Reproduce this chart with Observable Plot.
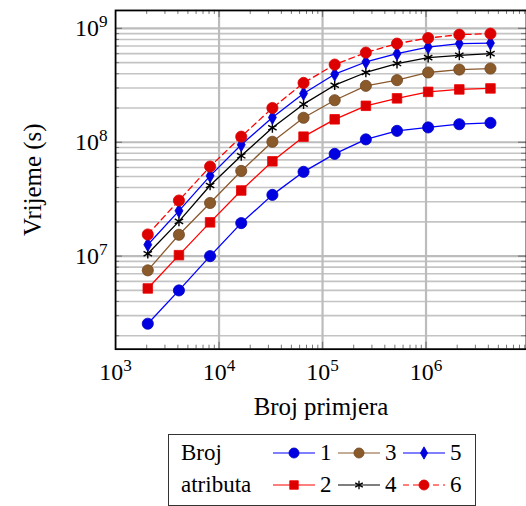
<!DOCTYPE html>
<html><head><meta charset="utf-8">
<script src="https://cdn.jsdelivr.net/npm/d3@7"></script>
<script src="https://cdn.jsdelivr.net/npm/@observablehq/plot@0.6"></script>
<style>
html,body{margin:0;padding:0;background:#fff;overflow:hidden;}
#chart{position:absolute;left:0;top:0;}
#legend{position:absolute;left:168px;top:434px;border:1.5px solid #333;background:#fff;
  padding:2px 12px 4px 12px;font-size:23px;color:#000;
  display:grid;grid-template-columns:92px 42px 23px 42px 23px 42px 18px;grid-auto-rows:32px;align-items:center;}
#legend .num{padding-left:5px;}
#legend svg{display:block;}
</style></head><body>
<div id="chart"></div>
<div id="legend"></div>
<script>
// ---- data ----
const sizes = [2048, 4096, 8192, 16384, 32768, 65536, 131072, 262144, 524288, 1048576, 2097152, 4194304];
const seriesNames = ["1", "2", "3", "4", "5", "6"];
const s1 = [2.55e6, 5.0e6, 1.0e7, 1.95e7, 3.45e7, 5.5e7, 7.9e7, 1.06e8, 1.26e8, 1.35e8, 1.44e8, 1.48e8];
const s2 = [5.2e6, 1.02e7, 1.98e7, 3.77e7, 6.8e7, 1.12e8, 1.59e8, 2.09e8, 2.43e8, 2.77e8, 2.91e8, 2.97e8];
const s3 = [7.5e6, 1.54e7, 2.93e7, 5.6e7, 1.01e8, 1.64e8, 2.34e8, 3.13e8, 3.51e8, 4.1e8, 4.35e8, 4.44e8];
const s4 = [1.05e7, 2.02e7, 4.17e7, 7.6e7, 1.34e8, 2.16e8, 3.17e8, 4.1e8, 4.91e8, 5.54e8, 5.8e8, 6.0e8];
const s5 = [1.26e7, 2.5e7, 5.07e7, 9.5e7, 1.65e8, 2.68e8, 3.96e8, 5.07e8, 6.0e8, 6.86e8, 7.35e8, 7.43e8];
const s6 = [1.55e7, 3.08e7, 6.12e7, 1.12e8, 2.0e8, 3.32e8, 4.81e8, 6.13e8, 7.35e8, 8.23e8, 8.81e8, 8.99e8];
const xTickLabels = [1e3, 1e4, 1e5, 1e6];
const yTickLabels = [1e7, 1e8, 1e9];
const legendTitle = ["Broj", "atributa"];
const xLabel = "Broj primjera";
const yLabel = "Vrijeme (s)";

// ---- styles ----
const FONT = "'Liberation Serif', serif";
const allSeries = [s1, s2, s3, s4, s5, s6];
const styles = {
  "1": {line: "#0000ff", fill: "#0000e0", stroke: "#0000c8", symbol: "circle", r: 5.6, dash: null},
  "2": {line: "#ff0000", fill: "#dd0000", stroke: "#ee0000", symbol: "square", r: 5.4, dash: null},
  "3": {line: "#8a5a2e", fill: "#8b5a2b", stroke: "#6e4520", symbol: "circle", r: 5.6, dash: null},
  "4": {line: "#000000", fill: "none", stroke: "#000000", symbol: "asterisk", r: 4.6, dash: null},
  "5": {line: "#0000ff", fill: "#0000e0", stroke: "#0000d0", symbol: "diamond", r: 4.2, dash: null},
  "6": {line: "#ff0000", fill: "#dd0000", stroke: "#e00000", symbol: "circle", r: 5.6, dash: "6,4"}
};

const table = [];
seriesNames.forEach((name, k) => sizes.forEach((x, i) => table.push({series: name, x, y: allSeries[k][i]})));

const W = 528, H = 430;
const xDomain = [1000, 9.35e6], yDomain = [1.524e6, 1.437e9];
const xAll = d3.scaleLog().domain(xDomain).ticks().filter(v => v > xDomain[0] && v < xDomain[1]);
const yAll = d3.scaleLog().domain(yDomain).ticks().filter(v => v > yDomain[0] && v < yDomain[1]);
const isMajor = v => Math.abs(Math.log10(v) - Math.round(Math.log10(v))) < 1e-9;
const xMinor = xAll.filter(v => !isMajor(v)), xMajor = xAll.filter(isMajor);
const yMinor = yAll.filter(v => !isMajor(v)), yMajor = yAll.filter(isMajor);
const plotW = W - 115.5, plotH = 340;

const marks = [
  Plot.ruleY(yMinor, {y: d => d, stroke: "#c4c4c4", strokeWidth: 1.6}),
  Plot.ruleY(yMajor, {y: d => d, stroke: "#bcbcbc", strokeWidth: 2.2}),
  Plot.ruleX(xMajor, {x: d => d, stroke: "#bcbcbc", strokeWidth: 2.2}),
  Plot.tickX(xMinor, {x: d => d, insetTop: plotH - 4, stroke: "#777", strokeWidth: 1}),
  Plot.tickX(xMinor, {x: d => d, insetBottom: plotH - 4, stroke: "#777", strokeWidth: 1}),
  Plot.tickX(xMajor, {x: d => d, insetTop: plotH - 7, stroke: "#777", strokeWidth: 1.2}),
  Plot.tickX(xMajor, {x: d => d, insetBottom: plotH - 7, stroke: "#777", strokeWidth: 1.2}),
  Plot.tickY(yMinor, {y: d => d, insetRight: plotW - 4, stroke: "#777", strokeWidth: 1}),
  Plot.tickY(yMinor, {y: d => d, insetLeft: plotW - 5, stroke: "#777", strokeWidth: 1}),
  Plot.tickY(yMajor, {y: d => d, insetRight: plotW - 7, stroke: "#777", strokeWidth: 1.2}),
  Plot.tickY(yMajor, {y: d => d, insetLeft: plotW - 8, stroke: "#777", strokeWidth: 1.2}),
];
seriesNames.forEach(name => {
  const st = styles[name];
  const data = table.filter(d => d.series === name);
  marks.push(Plot.line(data, {x: "x", y: "y", stroke: st.line, strokeWidth: 1.3, strokeDasharray: st.dash}));
});
seriesNames.forEach(name => {
  const st = styles[name];
  const data = table.filter(d => d.series === name);
  marks.push(Plot.dot(data, {x: "x", y: "y", symbol: () => st.symbol, r: st.r, fill: st.fill, stroke: st.stroke, strokeWidth: name === "4" ? 1.4 : 0.8}));
});
marks.push(Plot.frame({stroke: "#000", strokeWidth: 1.8}));
marks.push(Plot.axisX(xTickLabels, {tickSize: 0, tickPadding: 14, fontSize: 24, tickFormat: d => "10^" + Math.round(Math.log10(d)), label: xLabel, labelAnchor: "center", labelOffset: 66, labelArrow: "none"}));
marks.push(Plot.axisY(yTickLabels, {tickSize: 0, tickPadding: 8, fontSize: 24, tickFormat: d => "10^" + Math.round(Math.log10(d)), label: yLabel, labelAnchor: "center", labelOffset: 93, labelArrow: "none"}));

const chart = Plot.plot({
  width: W, height: H,
  marginLeft: 115.5, marginRight: 0, marginTop: 10, marginBottom: H - 350,
  x: {type: "log", domain: xDomain},
  y: {type: "log", domain: yDomain},
  style: {fontSize: "23px", color: "#000", background: "#fff", overflow: "visible"},
  marks
});
chart.setAttribute("font-family", "Liberation Serif");
chart.style.fontFamily = FONT;
document.getElementById("chart").appendChild(chart);

d3.select(chart).selectAll("text").each(function () {
  const t = this.textContent;
  const m = /^10\^(-?\d+)$/.exec(t);
  if (!m) return;
  const sel = d3.select(this);
  sel.selectAll("*").remove();
  sel.text(null);
  sel.append("tspan").text("10");
  sel.append("tspan").attr("dy", "-0.5em").attr("font-size", "0.72em").text(m[1]);
});
d3.select(chart).selectAll("text").attr("fill", "#000").attr("font-family", "Liberation Serif").style("font-family", FONT);
d3.select(chart).selectAll("text").filter(function () { return this.textContent === xLabel || this.textContent === yLabel; })
  .style("font-size", "25px");

// ---- legend ----
const legend = d3.select("#legend").style("font-family", FONT);
const order = [["1", "3", "5"], ["2", "4", "6"]];
order.forEach((row, ri) => {
  legend.append("div").style("font-family", FONT).text(legendTitle[ri]);
  row.forEach(name => {
    const st = styles[name];
    const svg = legend.append("svg").attr("width", 42).attr("height", 20);
    svg.append("line").attr("x1", 0).attr("x2", 42).attr("y1", 10).attr("y2", 10)
      .attr("stroke", st.line).attr("stroke-width", 1.2).attr("stroke-dasharray", st.dash);
    const sym = {circle: d3.symbolCircle, square: d3.symbolSquare, asterisk: d3.symbolAsterisk, diamond: d3.symbolDiamond}[st.symbol];
    svg.append("path").attr("transform", "translate(21,10)")
      .attr("d", d3.symbol(sym, Math.PI * st.r * st.r * 0.8)())
      .attr("fill", st.fill).attr("stroke", st.stroke).attr("stroke-width", name === "4" ? 1.3 : 0.8);
    legend.append("div").attr("class", "num").style("font-family", FONT).text(name);
  });
});
</script>
</body></html>
